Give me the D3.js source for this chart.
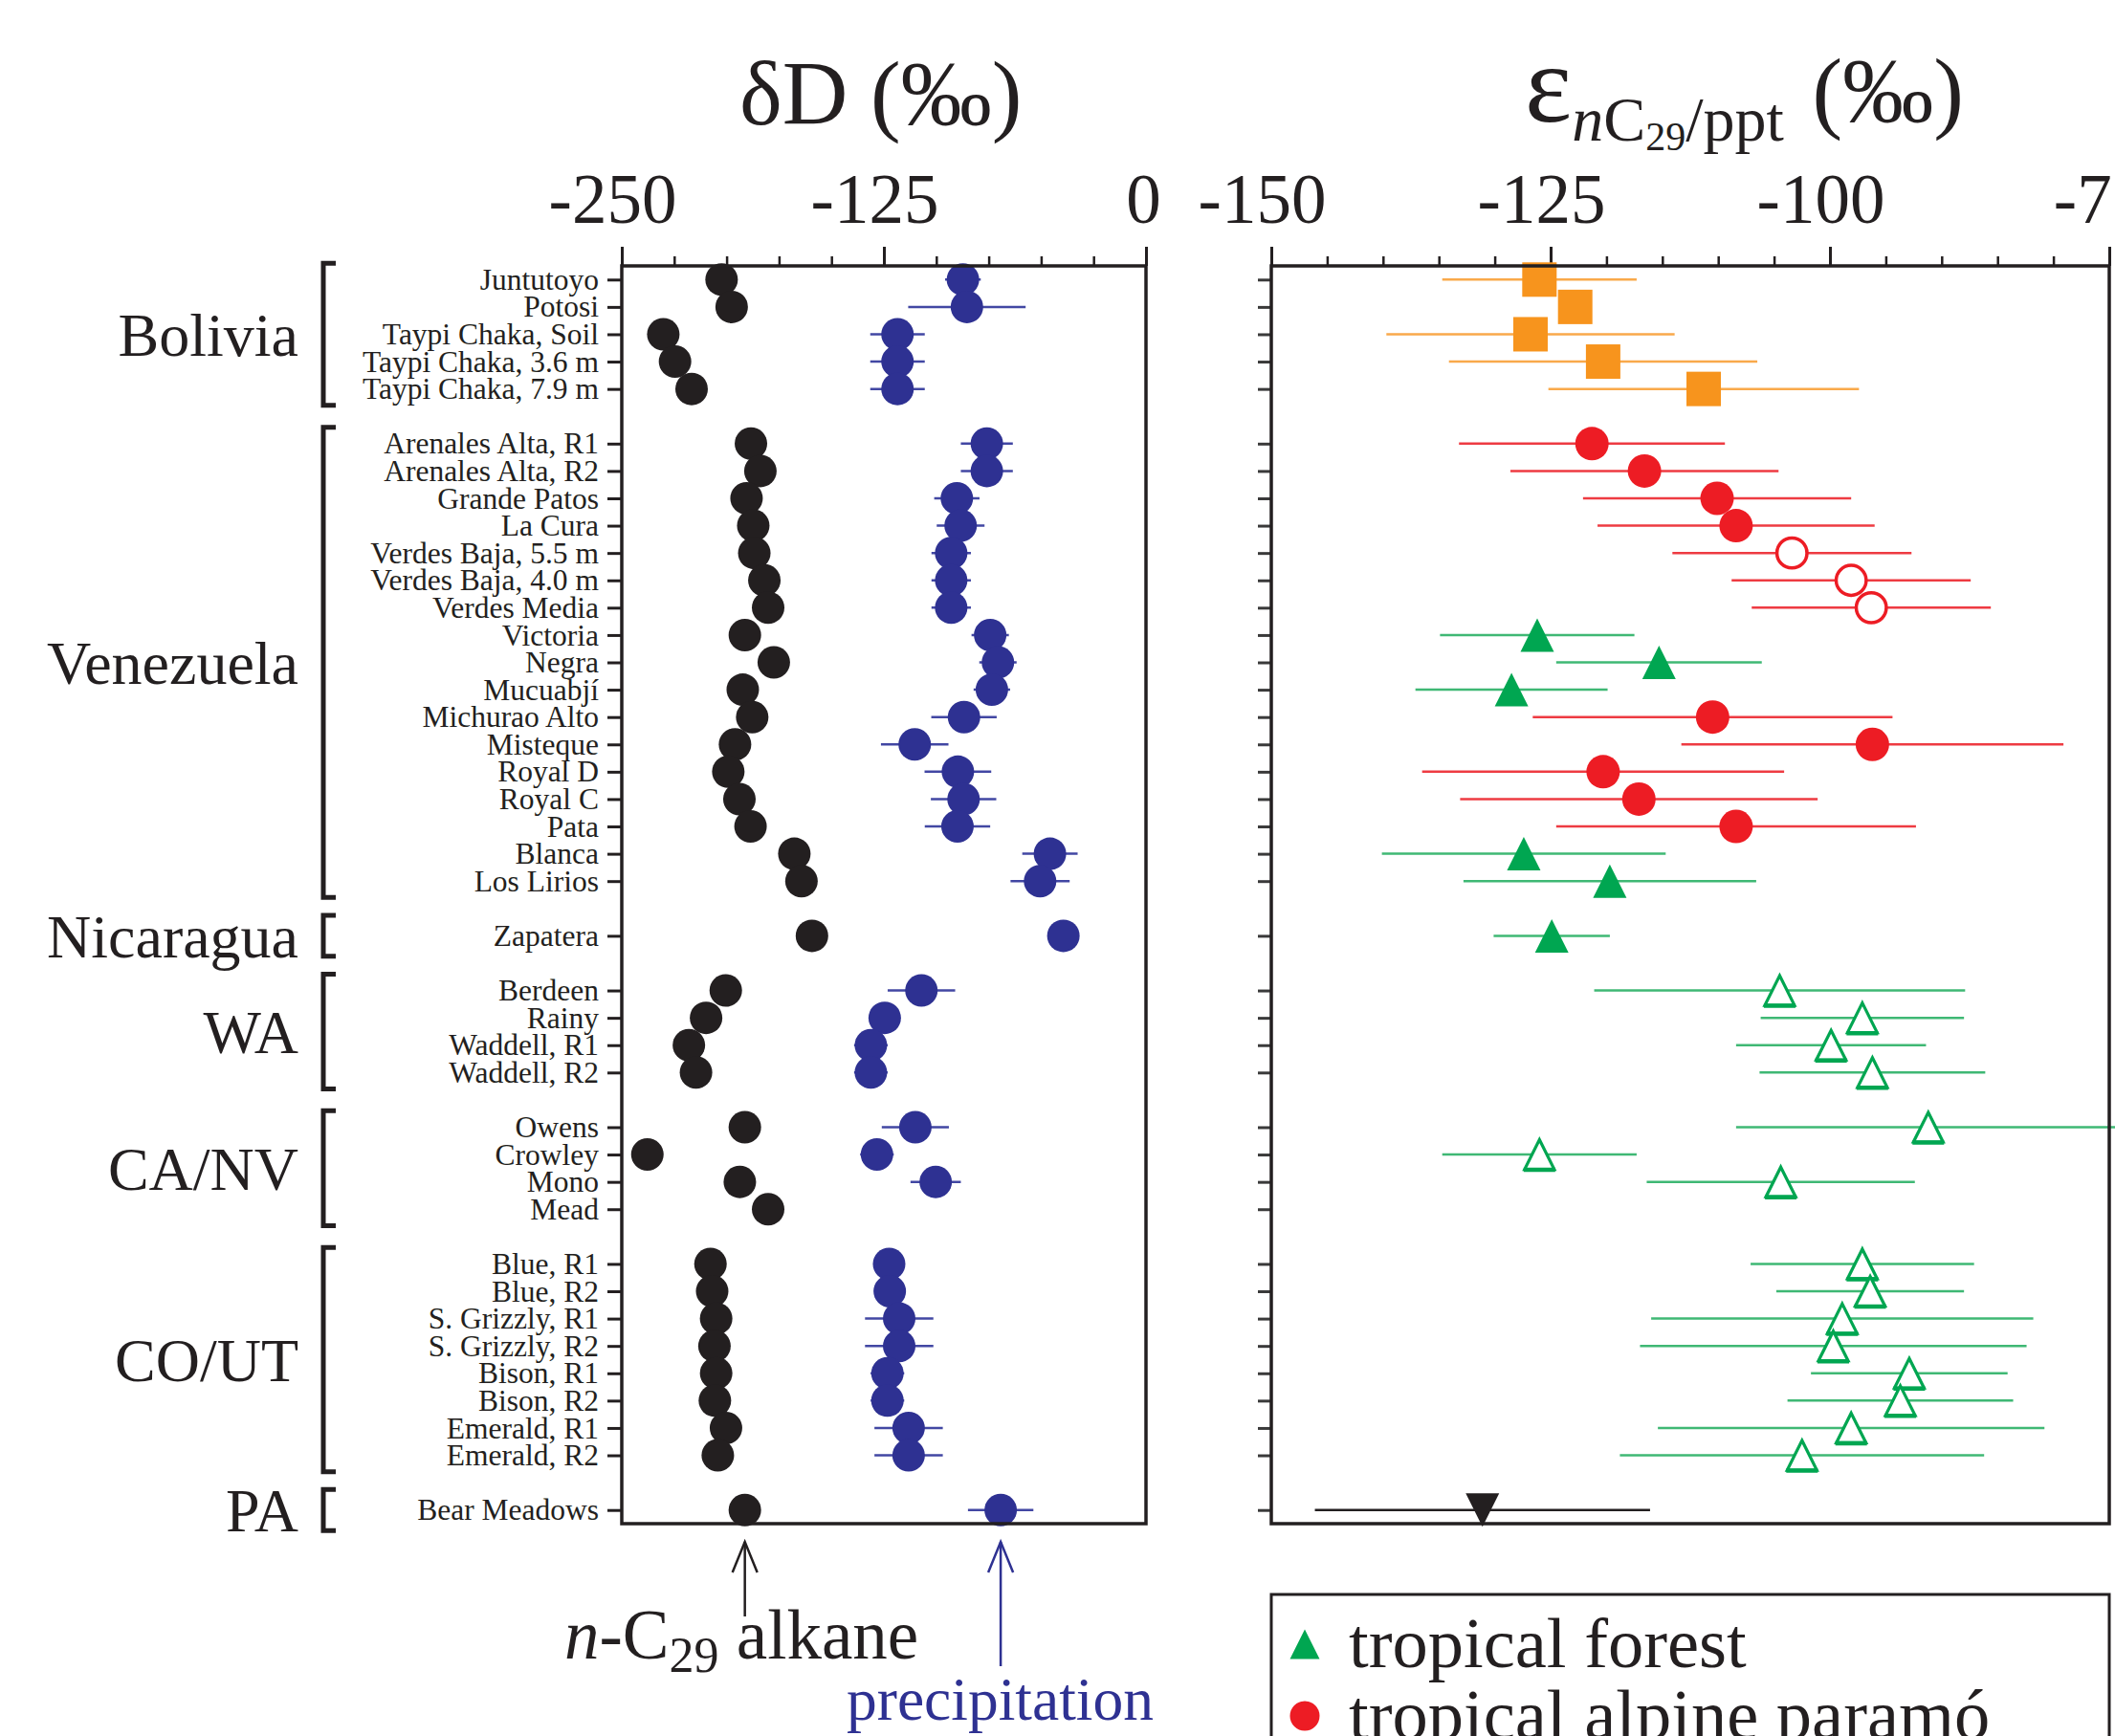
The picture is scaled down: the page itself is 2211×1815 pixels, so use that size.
<!DOCTYPE html>
<html><head><meta charset="utf-8">
<script src="https://cdn.jsdelivr.net/npm/d3@7"></script>
<style>
html,body{margin:0;padding:0;background:#fff;overflow:hidden}
svg{display:block}
text{font-family:"Liberation Serif","Times New Roman",serif;fill:#231f20}
</style></head><body>
<svg id="chart" width="2211" height="1815"></svg>
<script>
// ---------------- DATA ----------------
const regions = ["Bolivia","Venezuela","Nicaragua","WA","CA/NV","CO/UT","PA"];
const regionSize = [5,17,1,4,4,8,1];
const sites = ["Juntutoyo","Potosi","Taypi Chaka, Soil","Taypi Chaka, 3.6 m","Taypi Chaka, 7.9 m",
 "Arenales Alta, R1","Arenales Alta, R2","Grande Patos","La Cura","Verdes Baja, 5.5 m","Verdes Baja, 4.0 m",
 "Verdes Media","Victoria","Negra","Mucuabjí","Michurao Alto","Misteque","Royal D","Royal C","Pata","Blanca","Los Lirios",
 "Zapatera",
 "Berdeen","Rainy","Waddell, R1","Waddell, R2",
 "Owens","Crowley","Mono","Mead",
 "Blue, R1","Blue, R2","S. Grizzly, R1","S. Grizzly, R2","Bison, R1","Bison, R2","Emerald, R1","Emerald, R2",
 "Bear Meadows"];
// δD of n-C29 alkane (‰)
const alkaneD = [-202.4,-197.6,-230.2,-224.6,-216.7,
 -188.4,-183.9,-190.5,-187.3,-186.8,-182.0,-180.2,-191.3,-177.5,-192.3,-187.8,-196.0,-199.2,-193.9,-188.6,-167.7,-164.3,
 -159.3,
 -200.4,-209.8,-218.0,-214.6,
 -191.3,-237.8,-193.7,-180.2,
 -207.7,-206.9,-205.0,-205.8,-205.0,-205.6,-200.3,-204.2,
 -191.3];
// δD of precipitation (‰) and its error
const precipD = [-87.3,-85.4,-118.5,-118.5,-118.5,
 -75.9,-75.9,-90.2,-88.4,-92.9,-92.9,-92.9,-74.3,-70.6,-73.5,-86.8,-110.3,-89.7,-87.0,-89.9,-45.8,-50.5,
 -39.4,
 -107.1,-124.6,-131.2,-131.2,
 -110.0,-128.3,-100.3,null,
 -122.5,-122.2,-117.7,-117.7,-123.3,-123.3,-113.2,-113.2,
 -69.3];
const precipErr = [8.5,28,13,13,13,
 12.4,12.4,10.8,11.4,9.4,9.4,9.4,8.9,8.9,8.7,15.6,16.1,15.9,15.6,15.6,13.2,14.1,
 5,
 16.1,6,8,8,
 16,8,12,null,
 7,7,16.3,16.3,8,8,16.3,16.3,
 15.6];
// ε nC29/ppt (‰) and its error
const epsilon = [-126.0,-122.8,-126.8,-120.3,-111.3,
 -121.3,-116.6,-110.1,-108.4,-103.4,-98.1,-96.3,-126.2,-115.3,-128.5,-110.5,-96.2,-120.3,-117.1,-108.4,-127.4,-119.7,
 -124.9,
 -104.5,-97.1,-99.9,-96.2,
 -91.2,-126.0,-104.4,null,
 -97.1,-96.4,-98.9,-99.7,-92.9,-93.7,-98.1,-102.5,
 -131.1];
const epsilonErr = [8.7,null,12.9,13.8,13.9,
 11.9,12,12,12.4,10.7,10.7,10.7,8.7,9.2,8.6,16.1,17.1,16.2,16,16.1,12.7,13.1,
 5.2,
 16.6,9.1,8.5,10.1,
 17.2,8.7,12,null,
 10,8.4,17.1,17.3,8.8,10.1,17.3,16.3,
 15];
const epsilonSymbol = ["square","square","square","square","square",
 "circle","circle","circle","circle","openCircle","openCircle","openCircle",
 "triangle","triangle","triangle","circle","circle","circle","circle","circle","triangle","triangle",
 "triangle",
 "openTriangle","openTriangle","openTriangle","openTriangle",
 "openTriangle","openTriangle","openTriangle",null,
 "openTriangle","openTriangle","openTriangle","openTriangle","openTriangle","openTriangle","openTriangle","openTriangle",
 "invTriangle"];
const leftTickLabels = [-250,-125,0];
const leftMinorTicks = [-250,-225,-200,-175,-150,-125,-100,-75,-50,-25,0];
const rightTickLabels = [-150,-125,-100,-75];
const rightMinorTicks = [-150,-145,-140,-135,-130,-125,-120,-115,-110,-105,-100,-95,-90,-85,-80,-75];
const legendLabels = ["tropical forest","tropical alpine paramó"];
const legendSymbols = ["triangle","circle"];

// ---------------- COLOURS ----------------
const C = {black:"#231f20", blue:"#2e3192", orange:"#f7941d", red:"#ed1c24", green:"#00a651",
  orangeBar:"#f9a94b", redBar:"#ee3b42", greenBar:"#3fb874", blueBar:"#4247a3"};
const symColor = {square:C.orange, circle:C.red, openCircle:C.red, triangle:C.green, openTriangle:C.green, invTriangle:C.black};
const barColor = {square:C.orangeBar, circle:C.redBar, openCircle:C.redBar, triangle:C.greenBar, openTriangle:C.greenBar, invTriangle:C.black};

// ---------------- LAYOUT ----------------
const rowIndex = [];
const siteRegion = [];
let r = 0;
regionSize.forEach((n,g)=>{ for(let i=0;i<n;i++){ rowIndex.push(r); siteRegion.push(g); r++; } r++; });
const nRows = r - 1;

const svg = d3.select("#chart");
const y = d3.scaleLinear().domain([-0.5, nRows - 0.5]).range([278, 1593]);
const xL = d3.scaleLinear().domain([-250, 0]).range([650, 1198]);
const xR = d3.scaleLinear().domain([-150, -75]).range([1329, 2205]);
const F = '"Liberation Serif","Times New Roman",serif';

// ---------------- TITLES ----------------
const t1 = svg.append("text").attr("x",773).attr("y",130).attr("font-size",95);
t1.append("tspan").text("δD (‰)");

const t2 = svg.append("text").attr("x",1594).attr("y",127).attr("font-size",95);
t2.append("tspan").attr("font-size",117).text("ε");
t2.append("tspan").attr("font-size",66).attr("font-style","italic").attr("dy",20).text("n");
t2.append("tspan").attr("font-size",66).text("C");
t2.append("tspan").attr("font-size",42).attr("dy",10).text("29");
t2.append("tspan").attr("font-size",66).attr("dy",-10).text("/ppt");
t2.append("tspan").attr("font-size",95).attr("dy",-20).attr("dx",6).text(" (‰)");

// ---------------- AXES ----------------
function topAxis(scale, minor, major){
  const y0 = y.range()[0];
  const gm = svg.append("g").attr("transform",`translate(0,${y0})`)
    .call(d3.axisTop(scale).tickValues(minor).tickSize(10).tickSizeOuter(0).tickFormat(""));
  gm.select(".domain").remove();
  gm.selectAll("line").attr("stroke",C.black).attr("stroke-width",2.5);
  const gM = svg.append("g").attr("transform",`translate(0,${y0})`)
    .call(d3.axisTop(scale).tickValues(major).tickSize(20).tickSizeOuter(0).tickPadding(25)
      .tickFormat(d => d === 0 ? "0" : String(d)));
  gM.select(".domain").remove();
  gM.selectAll("line").attr("stroke",C.black).attr("stroke-width",3);
  gM.selectAll("text").attr("font-size",73).attr("font-family",F).attr("fill",C.black)
    .attr("dx", d => d < 0 ? -10 : -3);
}
topAxis(xL, leftMinorTicks, leftTickLabels);
topAxis(xR, rightMinorTicks, rightTickLabels);

// left panel y axis with site labels
const labelOf = new Map(rowIndex.map((ri,i)=>[ri, sites[i]]));
const gyl = svg.append("g").attr("transform",`translate(${xL.range()[0]},0)`)
  .call(d3.axisLeft(y).tickValues(rowIndex).tickSize(15).tickSizeOuter(0).tickPadding(9).tickFormat(d=>labelOf.get(d)));
gyl.select(".domain").remove();
gyl.selectAll("line").attr("stroke",C.black).attr("stroke-width",3);
gyl.selectAll("text").attr("font-size",31.5).attr("font-family",F).attr("fill",C.black);

const gyr = svg.append("g").attr("transform",`translate(${xR.range()[0]},0)`)
  .call(d3.axisLeft(y).tickValues(rowIndex).tickSize(14).tickSizeOuter(0).tickFormat(""));
gyr.select(".domain").remove();
gyr.selectAll("line").attr("stroke","#3a3a3a").attr("stroke-width",3);

// ---------------- REGION BRACKETS ----------------
regions.forEach((name,g)=>{
  const idx = rowIndex.filter((ri,i)=>siteRegion[i]===g);
  const pad = regionSize[g] === 1 ? 0.75 : 0.6;
  const top = y(idx[0]-pad), bot = y(idx[idx.length-1]+pad);
  svg.append("path").attr("d",`M351,${top}H338V${bot}H351`).attr("fill","none")
    .attr("stroke",C.black).attr("stroke-width",5);
  svg.append("text").attr("x",312).attr("y",(y(idx[0])+y(idx[idx.length-1]))/2).attr("dy","0.35em")
    .attr("text-anchor","end").attr("font-size",64).text(name);
});

// ---------------- LEFT PANEL MARKS ----------------
const rows = sites.map((s,i)=>({i, row:rowIndex[i], a:alkaneD[i], p:precipD[i], pe:precipErr[i],
  e:epsilon[i], ee:epsilonErr[i], sym:epsilonSymbol[i]}));

svg.append("g").selectAll("line").data(rows.filter(d=>d.p!==null && d.pe!==null)).join("line")
  .attr("x1",d=>xL(d.p-d.pe)).attr("x2",d=>xL(d.p+d.pe))
  .attr("y1",d=>y(d.row)).attr("y2",d=>y(d.row))
  .attr("stroke",C.blueBar).attr("stroke-width",2.5);
svg.append("g").selectAll("circle").data(rows).join("circle")
  .attr("cx",d=>xL(d.a)).attr("cy",d=>y(d.row)).attr("r",17).attr("fill",C.black);
svg.append("g").selectAll("circle").data(rows.filter(d=>d.p!==null)).join("circle")
  .attr("cx",d=>xL(d.p)).attr("cy",d=>y(d.row)).attr("r",17).attr("fill",C.blue);

// ---------------- RIGHT PANEL MARKS ----------------
svg.append("g").selectAll("line").data(rows.filter(d=>d.e!==null && d.ee!==null)).join("line")
  .attr("x1",d=>xR(d.e-d.ee)).attr("x2",d=>xR(d.e+d.ee))
  .attr("y1",d=>y(d.row)).attr("y2",d=>y(d.row))
  .attr("stroke",d=>barColor[d.sym]).attr("stroke-width",2.5);

function drawSymbol(g, sym, cx, cy, s){
  const h = s/2;
  const col = symColor[sym];
  if(sym==="square"){
    g.append("rect").attr("x",cx-h).attr("y",cy-h).attr("width",s).attr("height",s).attr("fill",col);
  } else if(sym==="circle"){
    g.append("circle").attr("cx",cx).attr("cy",cy).attr("r",h).attr("fill",col);
  } else if(sym==="openCircle"){
    g.append("circle").attr("cx",cx).attr("cy",cy).attr("r",h-1.8).attr("fill","#fff")
      .attr("stroke",col).attr("stroke-width",3.5);
  } else if(sym==="triangle"){
    g.append("path").attr("d",`M${cx},${cy-h}L${cx+h},${cy+h}L${cx-h},${cy+h}Z`).attr("fill",col);
  } else if(sym==="openTriangle"){
    g.append("path").attr("d",`M${cx},${cy-h+2}L${cx+h-2},${cy+h-2}L${cx-h+2},${cy+h-2}Z`)
      .attr("fill","#fff").attr("stroke",col).attr("stroke-width",3.2).attr("stroke-linejoin","miter");
    g.append("line").attr("x1",cx-h+1).attr("x2",cx+h-1).attr("y1",cy+h-1.5).attr("y2",cy+h-1.5)
      .attr("stroke",col).attr("stroke-width",4.5);
  } else if(sym==="invTriangle"){
    g.append("path").attr("d",`M${cx-h},${cy-h}L${cx+h},${cy-h}L${cx},${cy+h}Z`).attr("fill",col);
  }
}
const gR = svg.append("g");
rows.filter(d=>d.e!==null).forEach(d=>{
  drawSymbol(gR, d.sym, xR(d.e), y(d.row), d.sym==="square"?36:35);
});

// ---------------- FRAMES ----------------
[xL, xR].forEach(sc=>{
  svg.append("rect").attr("x",sc.range()[0]).attr("y",y.range()[0])
    .attr("width",sc.range()[1]-sc.range()[0]).attr("height",y.range()[1]-y.range()[0])
    .attr("fill","none").attr("stroke",C.black).attr("stroke-width",3.5);
});

// ---------------- ARROWS & LABELS BELOW LEFT PANEL ----------------
const last = rows[rows.length-1];
function arrow(x, y1, y2, col){
  svg.append("line").attr("x1",x).attr("x2",x).attr("y1",y1).attr("y2",y2).attr("stroke",col).attr("stroke-width",2.5);
  svg.append("path").attr("d",`M${x-13},${y2+32}L${x},${y2}L${x+13},${y2+32}`).attr("fill","none")
    .attr("stroke",col).attr("stroke-width",2.5);
}
arrow(xL(last.a), 1690, 1612, C.black);
arrow(xL(last.p), 1742, 1612, C.blue);

const t3 = svg.append("text").attr("x",590).attr("y",1734).attr("font-size",73);
t3.append("tspan").attr("font-style","italic").text("n");
t3.append("tspan").text("-C");
t3.append("tspan").attr("font-size",52).attr("dy",14).text("29");
t3.append("tspan").attr("dy",-14).text(" alkane");

svg.append("text").attr("x",885).attr("y",1798).attr("font-size",63.5).attr("fill",C.blue)
  .style("fill",C.blue).text("precipitation");

// ---------------- LEGEND ----------------
svg.append("rect").attr("x",xR.range()[0]).attr("y",1667).attr("width",xR.range()[1]-xR.range()[0]).attr("height",400)
  .attr("fill","none").attr("stroke",C.black).attr("stroke-width",3);
const gLeg = svg.append("g");
legendLabels.forEach((lab,i)=>{
  const cy = 1719 + i*75;
  drawSymbol(gLeg, legendSymbols[i], 1364, cy, 31);
  gLeg.append("text").attr("x",1410).attr("y",cy+24).attr("font-size",74.5).text(lab);
});
</script>
</body></html>
